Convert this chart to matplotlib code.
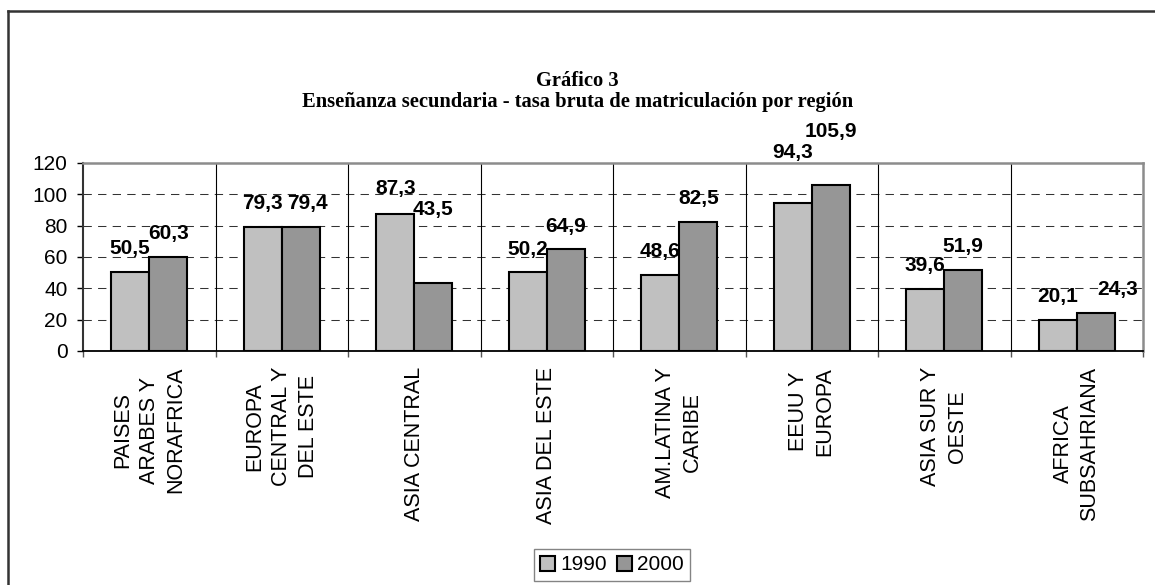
import matplotlib
matplotlib.use("Agg")
import matplotlib.pyplot as plt
from matplotlib.lines import Line2D
import numpy as np

categories = ["PAISES\nARABES Y\nNORAFRICA", "EUROPA\nCENTRAL Y\nDEL ESTE", "ASIA CENTRAL",
              "ASIA DEL ESTE", "AM.LATINA Y\nCARIBE", "EEUU Y\nEUROPA", "ASIA SUR Y\nOESTE",
              "AFRICA\nSUBSAHRIANA"]
values_1990 = [50.5, 79.3, 87.3, 50.2, 48.6, 94.3, 39.6, 20.1]
values_2000 = [60.3, 79.4, 43.5, 64.9, 82.5, 105.9, 51.9, 24.3]
series_names = ["1990", "2000"]
yticks = [0, 20, 40, 60, 80, 100, 120]
title_line1 = "Gráfico 3"
title_line2 = "Enseñanza secundaria - tasa bruta de matriculación por región"

# label offsets (pixels from bar top centre); default and exceptions as in the original
default_gap_px = 23
gap_overrides = {(2, 0): 26, (2, 1): 73, (5, 0): 51, (5, 1): 54}
xshift_overrides = {(1, 1): 7, (7, 1): 22}

W, H = 1155, 585
fig = plt.figure(figsize=(W / 100, H / 100), dpi=100)
sans = "Liberation Sans"
serif = "Liberation Serif"

left, right, top, bottom = 83, 1143, 163, 351
ax = fig.add_axes([left / W, 1 - bottom / H, (right - left) / W, (bottom - top) / H])

n = len(categories)
x = np.arange(n)
bw = 0.287
c1, c2 = "#C0C0C0", "#969696"
b1 = ax.bar(x - bw / 2, values_1990, bw, color=c1, edgecolor="black", linewidth=1.5, zorder=3)
b2 = ax.bar(x + bw / 2, values_2000, bw, color=c2, edgecolor="black", linewidth=1.5, zorder=3)

ax.set_xlim(-0.5, n - 0.5)
ax.set_ylim(0, 120)

# grid
for yv in yticks[1:-1]:
    ax.axhline(yv, color="#333333", lw=0.75, linestyle=(0, (8, 6)), zorder=1)
for xb in np.arange(0.5, n - 0.5, 1):
    ax.axvline(xb, color="black", lw=0.8, zorder=1)

# spines
ax.spines["left"].set_color("#333333")
ax.spines["left"].set_linewidth(1.5)
ax.spines["bottom"].set_color("black")
ax.spines["bottom"].set_linewidth(1.3)
ax.spines["top"].set_color("#8c8c8c")
ax.spines["top"].set_linewidth(1.8)
ax.spines["right"].set_color("#8c8c8c")
ax.spines["right"].set_linewidth(1.8)

ax.set_yticks(yticks)
ax.set_yticklabels([str(v) for v in yticks], fontsize=15, family=sans)
ax.tick_params(axis="y", direction="out", length=4.5, width=1, pad=6.5, colors="black")

ax.set_xticks(np.arange(-0.5, n, 1))
ax.set_xticklabels([])
ax.tick_params(axis="x", which="major", direction="out", length=4.5, width=1, color="#555555")
ax.set_xticks(x, minor=True)
ax.set_xticklabels(categories, minor=True, rotation=90, fontsize=15.5, family=sans,
                   va="top", ha="center", multialignment="center", linespacing=1.35)
ax.tick_params(axis="x", which="minor", length=0, pad=11.5)

# data labels
for s, (bars, vals) in enumerate([(b1, values_1990), (b2, values_2000)]):
    for i, (bar, v) in enumerate(zip(bars, vals)):
        gap = gap_overrides.get((i, s), default_gap_px)
        dx = xshift_overrides.get((i, s), 0)
        ax.annotate(f"{v:.1f}".replace(".", ","),
                    xy=(bar.get_x() + bar.get_width() / 2, v),
                    xytext=(dx * 0.72, gap * 0.72), textcoords="offset points",
                    ha="center", va="center", fontsize=15, fontweight="bold",
                    family=sans, zorder=5, annotation_clip=False)

# titles
fig.text(0.5, 1 - 81 / H, title_line1, ha="center", va="center", fontsize=14.75,
         fontweight="bold", family=serif)
fig.text(0.5, 1 - 102 / H, title_line2, ha="center", va="center", fontsize=14.75,
         fontweight="bold", family=serif)

# outer frame (top and left visible)
fig.add_artist(Line2D([8 / W, 1.0], [1 - 11 / H, 1 - 11 / H], color="#333333", lw=1.8,
                      transform=fig.transFigure))
fig.add_artist(Line2D([8 / W, 8 / W], [1 - 11 / H, 0.0], color="#333333", lw=1.8,
                      transform=fig.transFigure))

leg = fig.legend([b1, b2], series_names, loc="center", bbox_to_anchor=(612 / W, 1 - 565 / H),
                 ncol=2, frameon=True, fancybox=False, edgecolor="#666666",
                 prop={"family": sans, "size": 15}, handlelength=0.7, handleheight=0.7,
                 handletextpad=0.25, columnspacing=0.5, borderpad=0.3, borderaxespad=0)
leg.get_frame().set_linewidth(1.0)

fig.savefig("out.png", dpi=100)
